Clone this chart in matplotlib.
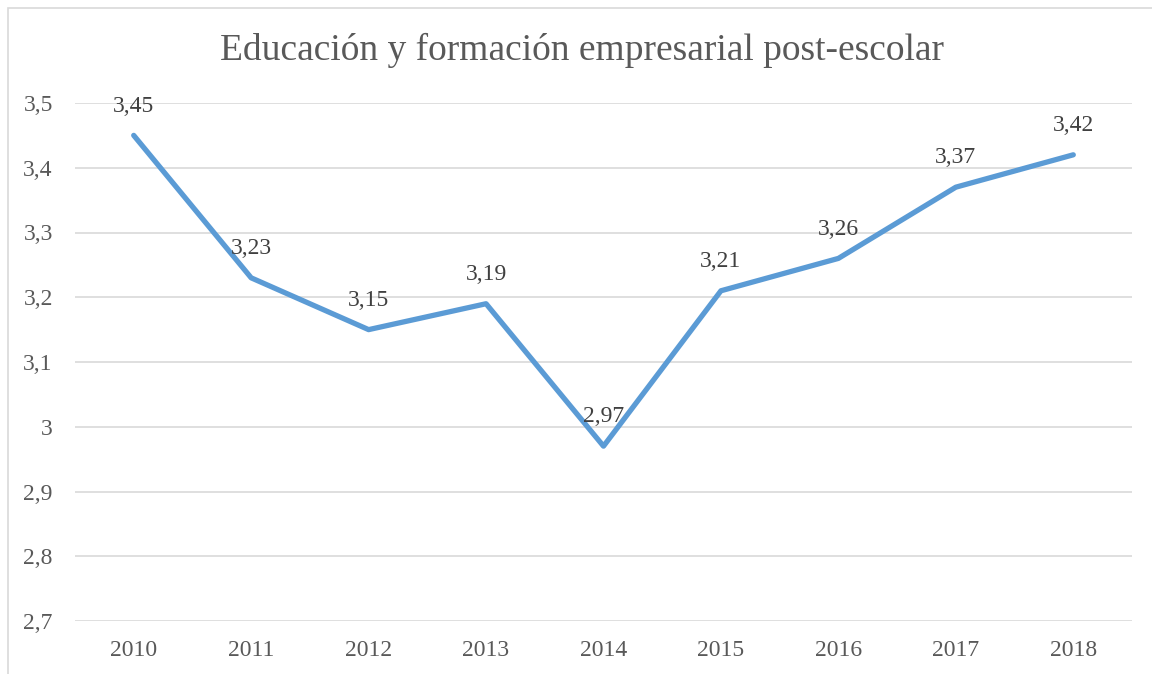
import matplotlib
matplotlib.use("Agg")
import matplotlib.pyplot as plt
from matplotlib.patches import Rectangle

years = ["2010", "2011", "2012", "2013", "2014", "2015", "2016", "2017", "2018"]
values = [3.45, 3.23, 3.15, 3.19, 2.97, 3.21, 3.26, 3.37, 3.42]
yticks = [2.7, 2.8, 2.9, 3.0, 3.1, 3.2, 3.3, 3.4, 3.5]
title = "Educación y formación empresarial post-escolar"

plt.rcParams['font.family'] = ['Liberation Serif', 'DejaVu Serif']

W, H = 1152, 674
fig = plt.figure(figsize=(W/100, H/100), dpi=100)
fig.patch.set_facecolor('white')

# outer chart frame (extends beyond right/bottom)
fig.add_artist(Rectangle((7.5/W, -0.1), 1.2, 1 - 7.5/H + 0.1, transform=fig.transFigure,
                         fill=False, edgecolor='#D9D9D9', linewidth=1.2))

ax = fig.add_axes([75/W, 1 - 621/H, (1132-75)/W, (621-103)/H])
x = list(range(len(years)))
ax.plot(x, values, color='#5B9BD5', linewidth=3.8, solid_capstyle='round', solid_joinstyle='round', zorder=3)
for xi, v in zip(x, values):
    ax.annotate(f"{v:.2f}".replace('.', ','), (xi, v), xytext=(0, 13.5), textcoords='offset points',
                ha='center', va='bottom', fontsize=17, color='#404040', zorder=4)

ax.set_xlim(-0.5, len(years) - 0.5)
ax.set_ylim(2.7, 3.5)
ax.set_yticks(yticks)
ax.set_yticklabels([f"{t:g}".replace('.', ',') for t in yticks])
ax.set_xticks(x)
ax.set_xticklabels(years)
ax.tick_params(axis='both', length=0, labelsize=17, colors='#595959')
ax.tick_params(axis='y', pad=16)
ax.tick_params(axis='x', pad=14)
ax.grid(axis='y', color='#D9D9D9', linewidth=1.2)
ax.set_axisbelow(True)
for s in ax.spines.values():
    s.set_visible(False)
for line in ax.get_lines():
    line.set_clip_on(False)

fig.text((222+943)/2/W, 1 - 50/H, title, ha='center', va='center', fontsize=27, color='#595959')

fig.savefig("out.png", dpi=100)
